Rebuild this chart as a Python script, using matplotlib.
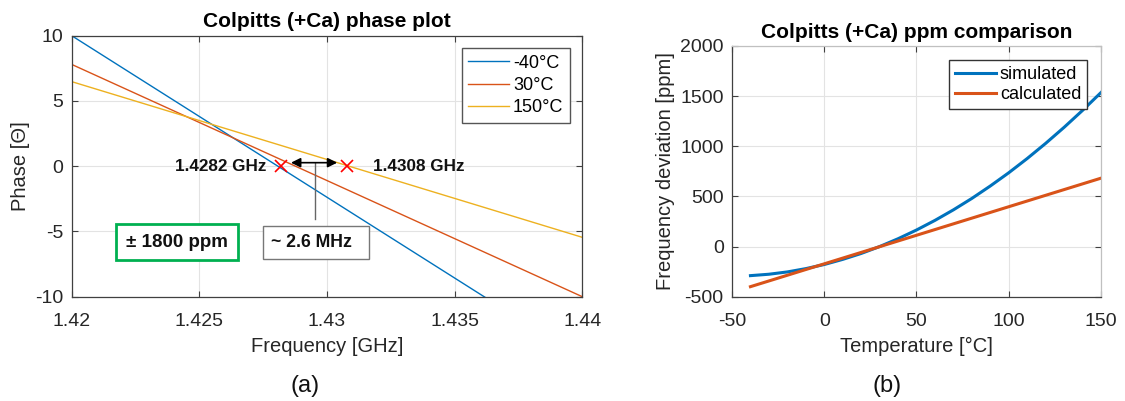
import matplotlib
matplotlib.use("Agg")
import matplotlib.pyplot as plt
from matplotlib.patches import Rectangle

plt.rcParams['font.family'] = ['Liberation Sans', 'DejaVu Sans']
plt.rcParams['axes.unicode_minus'] = False

# ---- Panel (a): phase plot data ----
freq = [1.42, 1.44]                       # GHz
phase_m40 = [10.0, -14.76]
phase_30 = [7.8, -10.0]
phase_150 = [6.48, -5.45]
phase_labels = ["-40°C", "30°C", "150°C"]
cross_freqs = [1.4282, 1.4308]
cross_phase = [0, 0]
a_xticks = [1.42, 1.425, 1.43, 1.435, 1.44]
a_xticklabels = ["1.42", "1.425", "1.43", "1.435", "1.44"]
a_yticks = [-10, -5, 0, 5, 10]

# ---- Panel (b): ppm comparison data ----
temps_sim = [-40, -30, -20, -10, 0, 10, 20, 30, 40, 50, 60, 70, 80, 90,
             100, 110, 120, 130, 140, 150]
ppm_sim = [-290, -276, -253, -220, -179, -128, -69, 0, 78, 165, 261, 366,
           480, 604, 736, 878, 1029, 1189, 1358, 1536]
temps_calc = [-40, 150]
ppm_calc = [-400, 682]
b_xticks = [-50, 0, 50, 100, 150]
b_yticks = [-500, 0, 500, 1000, 1500, 2000]

C_BLUE = '#0072BD'
C_ORANGE = '#D95319'
C_YELLOW = '#EDB120'
AX_COL = '#404040'
TXT_COL = '#262626'
GRID_COL = '#e3e3e3'

fig = plt.figure(figsize=(11.25, 4.01), dpi=100)

def style_axes(ax, light_box=False):
    ax.grid(True, color=GRID_COL, linewidth=0.8)
    ax.set_axisbelow(True)
    for s in ['left', 'bottom']:
        ax.spines[s].set_color(AX_COL)
        ax.spines[s].set_linewidth(0.9)
    for s in ['top', 'right']:
        ax.spines[s].set_color('#c0c0c0' if light_box else AX_COL)
        ax.spines[s].set_linewidth(0.9)
    ax.tick_params(direction='in', length=4, width=0.8, color=AX_COL,
                   labelsize=14, labelcolor=TXT_COL, top=True, right=True)
    ax.tick_params(axis='x', pad=12)
    ax.tick_params(axis='y', pad=6)

# ----- (a) -----
ax1 = fig.add_axes([71.7 / 1125, 1 - 296.7 / 401, (582.3 - 71.7) / 1125, (296.7 - 35.7) / 401])
l1, = ax1.plot(freq, phase_m40, color=C_BLUE, lw=1.0, label=phase_labels[0])
l2, = ax1.plot(freq, phase_30, color=C_ORANGE, lw=1.0, label=phase_labels[1])
l3, = ax1.plot(freq, phase_150, color=C_YELLOW, lw=1.0, label=phase_labels[2])
ax1.plot(cross_freqs, cross_phase, linestyle='none', marker='x', color='#FF0000',
         markersize=9, markeredgewidth=1.2, zorder=5)
ax1.set_xlim(1.42, 1.44)
ax1.set_ylim(-10, 10)
ax1.set_xticks(a_xticks)
ax1.set_xticklabels(a_xticklabels)
ax1.set_yticks(a_yticks)
style_axes(ax1)
ax1.set_title("Colpitts (+Ca) phase plot", fontsize=15, fontweight='bold', pad=6)
ax1.set_xlabel("Frequency [GHz]", fontsize=14.5, color=TXT_COL, labelpad=5)
ax1.set_ylabel("Phase [Θ]", fontsize=14.5, color=TXT_COL, labelpad=4)
leg1 = ax1.legend(loc='upper right', fontsize=13, handlelength=2.3, handletextpad=0.2,
                  fancybox=False, edgecolor='#555555', framealpha=1,
                  borderpad=0.35, labelspacing=0.3, borderaxespad=0.7)
leg1.get_frame().set_linewidth(1.0)

# annotations
ax1.text(1.42764, 0, "1.4282 GHz", ha='right', va='center', fontsize=12.3,
         fontweight='bold', color='#111111')
ax1.text(1.43179, 0, "1.4308 GHz", ha='left', va='center', fontsize=12.3,
         fontweight='bold', color='#111111')
ax1.annotate("", xy=(1.42859, 0.27), xytext=(1.43040, 0.27),
             arrowprops=dict(arrowstyle='<|-|>', color='black', lw=1.2,
                             mutation_scale=14, shrinkA=0, shrinkB=0))
ax1.plot([1.42953, 1.42953], [0.25, -4.07], color='#666666', lw=1.0)
ax1.add_patch(Rectangle((1.42750, -7.09), 1.43165 - 1.42750, 7.09 - 4.58,
                        fill=True, facecolor='white', edgecolor='#777777', lw=1.0, zorder=4))
ax1.text(1.42780, -5.85, "~ 2.6 MHz", ha='left', va='center', fontsize=12.7,
         fontweight='bold', color='#111111', zorder=5)
ax1.add_patch(Rectangle((1.42174, -7.19), 1.42653 - 1.42174, 7.19 - 4.43,
                        fill=True, facecolor='white', edgecolor='#00B050', lw=2.0, zorder=4))
ax1.text((1.42174 + 1.42653) / 2, -5.82, "± 1800 ppm", ha='center', va='center',
         fontsize=13.5, fontweight='bold', color='#111111', zorder=5)

# ----- (b) -----
ax2 = fig.add_axes([732 / 1125, 1 - 296.7 / 401, (1101 - 732) / 1125, (296.7 - 46) / 401])
ax2.plot(temps_sim, ppm_sim, color=C_BLUE, lw=2.2, label='simulated')
ax2.plot(temps_calc, ppm_calc, color=C_ORANGE, lw=2.2, label='calculated')
ax2.set_xlim(-50, 150)
ax2.set_ylim(-500, 2000)
ax2.set_xticks(b_xticks)
ax2.set_yticks(b_yticks)
style_axes(ax2, light_box=True)
ax2.set_title("Colpitts (+Ca) ppm comparison", fontsize=15, fontweight='bold', pad=6)
ax2.set_xlabel("Temperature [°C]", fontsize=14.5, color=TXT_COL, labelpad=5)
ax2.set_ylabel("Frequency deviation [ppm]", fontsize=14.5, color=TXT_COL, labelpad=4)
leg2 = ax2.legend(loc='upper right', fontsize=13, handlelength=2.3, handletextpad=0.2,
                  fancybox=False, edgecolor='#333333', framealpha=1,
                  borderpad=0.3, labelspacing=0.2, borderaxespad=0.8)
leg2.get_frame().set_linewidth(1.0)

fig.text(305 / 1125, 1 - 386 / 401, "(a)", ha='center', va='center', fontsize=17, color='#111111')
fig.text(887 / 1125, 1 - 386 / 401, "(b)", ha='center', va='center', fontsize=17, color='#111111')

fig.savefig("out.png", dpi=100, facecolor='white')
